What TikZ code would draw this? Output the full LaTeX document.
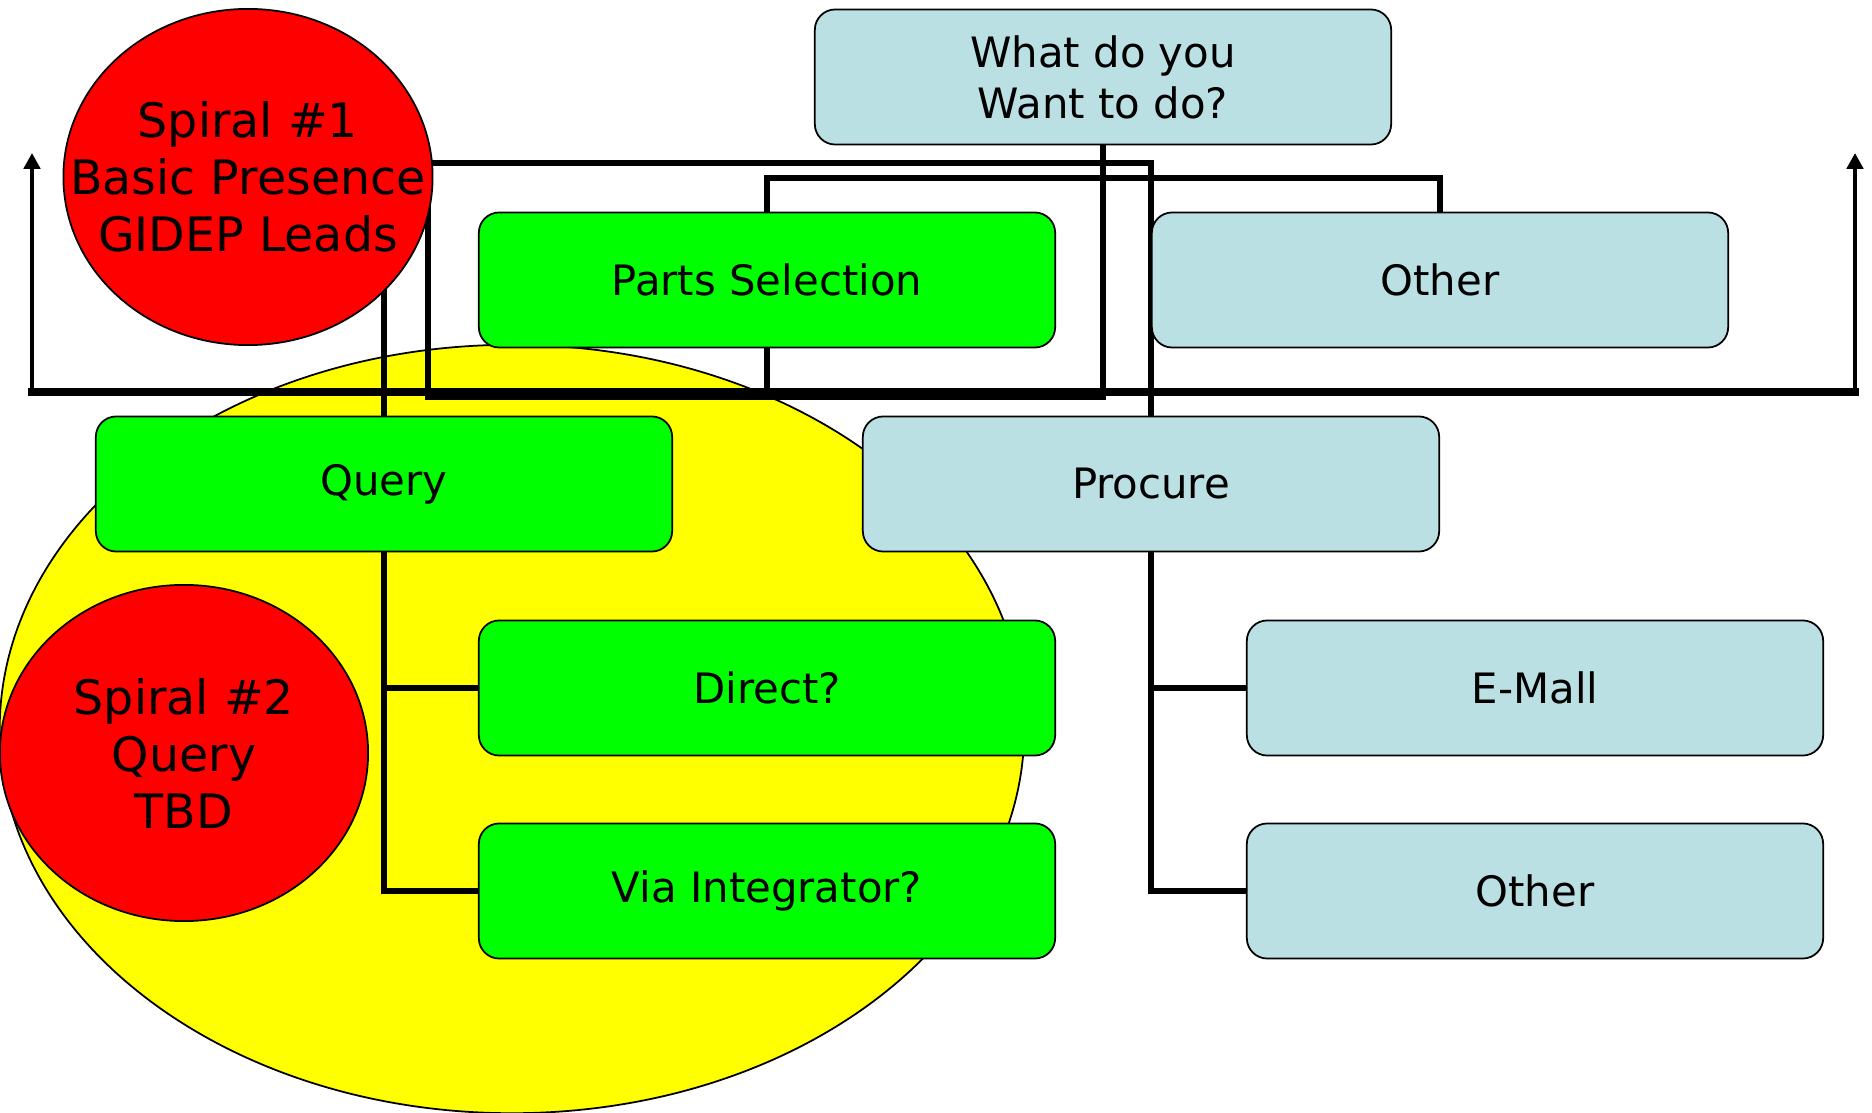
\documentclass[tikz,border=0pt]{standalone}
\usepackage{fontspec}
\setmainfont{DejaVu Sans}
\usetikzlibrary{shapes.geometric,arrows.meta,calc}
\definecolor{boxblue}{HTML}{BBE0E3}
\definecolor{boxgreen}{HTML}{00FF00}
\definecolor{spiralred}{HTML}{FF0000}
\definecolor{blobyellow}{HTML}{FFFF00}
\pgfdeclarelayer{blob}
\pgfdeclarelayer{links}
\pgfsetlayers{blob,links,main}
\tikzset{
  box/.style={draw=black, line width=0.5pt, rounded corners=5.8pt, minimum width=5.76cm, minimum height=1.35cm, inner sep=0pt, align=center, font=\fontsize{11.9}{14.5}\selectfont},
  greenbox/.style={box, fill=boxgreen},
  bluebox/.style={box, fill=boxblue},
  spiral/.style={ellipse, draw=black, line width=0.5pt, fill=spiralred, inner sep=0pt, minimum width=3.69cm, minimum height=3.36cm},
  spiraltext/.style={align=center, inner sep=0pt, font=\fontsize{13.5}{16.2}\selectfont},
  link/.style={draw=black, line width=1.45pt},
  bus/.style={draw=black, line width=2pt, line cap=rect},
  riser/.style={draw=black, line width=1.2pt, -{Triangle[length=4.5pt, width=4.6pt]}},
}

\begin{document}
\begin{tikzpicture}[x=0.01cm, y=-0.01cm]
  \useasboundingbox (0,0) rectangle (1872,1113);
  % big yellow area behind the query part
  \begin{pgfonlayer}{blob}
    \node[ellipse, draw=black, line width=0.5pt, fill=blobyellow, inner sep=0pt,
          minimum width=10.24cm, minimum height=7.68cm] (blob) at (512,729) {};
  \end{pgfonlayer}
  % spirals
  \node[spiral] (spiral1) at (248,177) {};
  \node[spiraltext] (spiral1txt) at (spiral1) {Spiral \#1\\Basic Presence\\GIDEP Leads};
  \node[spiral, minimum width=3.68cm] (spiral2) at (184,753) {};
  \node[spiraltext] (spiral2txt) at (spiral2) {Spiral \#2\\Query\\TBD};
  % boxes
  \node[bluebox]  (want)    at (1103,77)  {What do you\\Want to do?};
  \node[greenbox] (parts)   at (767,280)  {Parts Selection};
  \node[bluebox]  (other)   at (1440,280) {Other};
  \node[greenbox] (query)   at (384,484)  {Query};
  \node[bluebox]  (procure) at (1151,484) {Procure};
  \node[greenbox] (direct)  at (767,688)  {Direct?};
  \node[greenbox] (integr)  at (767,891)  {Via Integrator?};
  \node[bluebox]  (emall)   at (1535,688) {E-Mall};
  \node[bluebox]  (otherb)  at (1535,891) {Other};
  % routing points
  \coordinate (busL) at (32,392);
  \coordinate (busR) at (1855,392);
  \coordinate (riseL) at (32,153);
  \coordinate (riseR) at (1855,153);
  \coordinate (loopB) at (428,397);
  \coordinate (loopT) at (428,163);
  \coordinate (pbar) at (0,178);
  \begin{pgfonlayer}{links}
    \draw[bus] (busL) -- (busR);
    \draw[riser] (busL) -- (riseL);
    \draw[riser] (busR) -- (riseR);
    \draw[link] (want.south) -- (want.south |- loopB) -- (loopB) -- (loopT)
      -- (procure.north |- loopT) -- (procure.north);
    \draw[link] (parts.north) -- (parts.north |- pbar) -| (other.north);
    \draw[link] (parts.south) -- (parts.south |- busL);
    \draw[link] (query.north) -- (query.north |- spiral1.center);
    \foreach \X in {direct,integr}
      \draw[link] (query.south) |- (\X.west);
    \foreach \X in {emall,otherb}
      \draw[link] (procure.south) |- (\X.west);
  \end{pgfonlayer}
\end{tikzpicture}
\end{document}
